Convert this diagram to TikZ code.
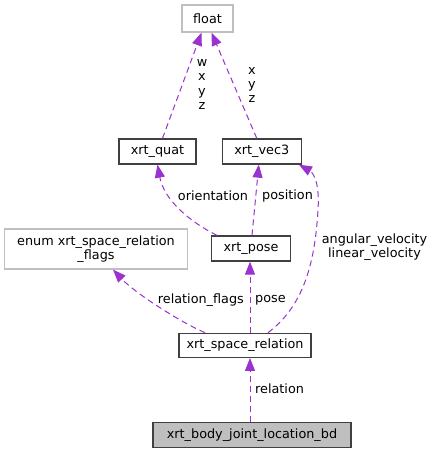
\documentclass[tikz,border=0pt]{standalone}
\usepackage{fontspec}
\setmainfont{DejaVu Sans}
\definecolor{edgeC}{RGB}{154, 50, 205}
\definecolor{docB}{RGB}{64, 64, 64}
\definecolor{undocB}{RGB}{191, 191, 191}
\usepackage{tikz}
\usetikzlibrary{arrows.meta, calc}

\begin{document}
\begin{tikzpicture}[x=1pt, y=-1pt,
        font=\fontsize{12.8}{13.8}\selectfont,
        cls/.style={draw=docB, line width=1.3pt, fill=white, inner sep=0pt, align=center},
        ext/.style={draw=undocB, line width=1.3pt, fill=white, inner sep=0pt, align=center},
        edge/.style={draw=edgeC, line width=1pt, dash pattern=on 6pt off 4pt,
              -{Triangle[length=13pt, width=10pt]}},
        elabel/.style={inner sep=0pt, align=center}]
        \useasboundingbox (0,0) rectangle (435,453);

        % Classes
        \node[ext, minimum width=51pt, minimum height=27pt] (float) at (207.5,18.5) {float};
        \node[cls, minimum width=77pt, minimum height=25pt] (quat) at (157.5,151.5) {xrt\_quat};
        \node[cls, minimum width=79pt, minimum height=25pt] (vec3) at (261.8,151.5) {xrt\_vec3};
        \node[cls, minimum width=79pt, minimum height=25pt] (pose) at (251,248.5) {xrt\_pose};
        \node[ext, minimum width=183pt, minimum height=40pt] (flags) at (96,249)
            {enum xrt\_space\_relation\\\_flags};
        \node[cls, minimum width=132pt, minimum height=24pt] (srel) at (245,345.3) {xrt\_space\_relation};
        \node[cls, fill=undocB, minimum width=198pt, minimum height=25pt] (body) at (252,435)
            {xrt\_body\_joint\_location\_bd};

        % Members
        \draw[edge] ($(body.north)+(-2,0)$) -- ($(srel.south)+(5,0)$);
        \draw[edge] ($(srel.north)+(5,0)$) -- ($(pose.south)+(-1,0)$);
        \draw[edge] ($(srel.north)+(-40,0)$) .. controls (180,322) and (135,293) .. ($(flags.south)+(17,0)$);
        \draw[edge] ($(srel.north)+(23,0)$) .. controls (305,305) and (315,260) .. (318,210)
            .. controls (320,180) and (312,172) .. ($(vec3.south east)+(-3,0)$);
        \draw[edge] ($(pose.north)+(-34,0)$) .. controls (190,222) and (164,200) .. (quat.south);
        \draw[edge] ($(pose.north)+(1,0)$) -- ($(vec3.south)+(-3,0)$);
        \draw[edge] ($(quat.north)+(5,0)$) -- ($(float.south)+(-6,0)$);
        \draw[edge] ($(vec3.north)+(-5,0)$) -- ($(float.south)+(4,0)$);

        % Member names
        \node[elabel, anchor=west] (lrel) at (255,389) {relation};
        \node[elabel, anchor=west] (lpose) at (255,300) {pose};
        \node[elabel, anchor=east] (lflags) at (244,300) {relation\_flags};
        \node[elabel] (lvel) at (374.5,247.5) {angular\_velocity\\linear\_velocity};
        \node[elabel] (lorient) at (213,196) {orientation};
        \node[elabel, anchor=west] (lposn) at (262,196) {position};
        \node[elabel, font=\fontsize{12.8}{14.3}\selectfont] (lwxyz) at (202,84.5) {w\\x\\y\\z};
        \node[elabel, font=\fontsize{12.8}{14.3}\selectfont] (lxyz) at (252,85) {x\\y\\z};
    \end{tikzpicture}
\end{document}
